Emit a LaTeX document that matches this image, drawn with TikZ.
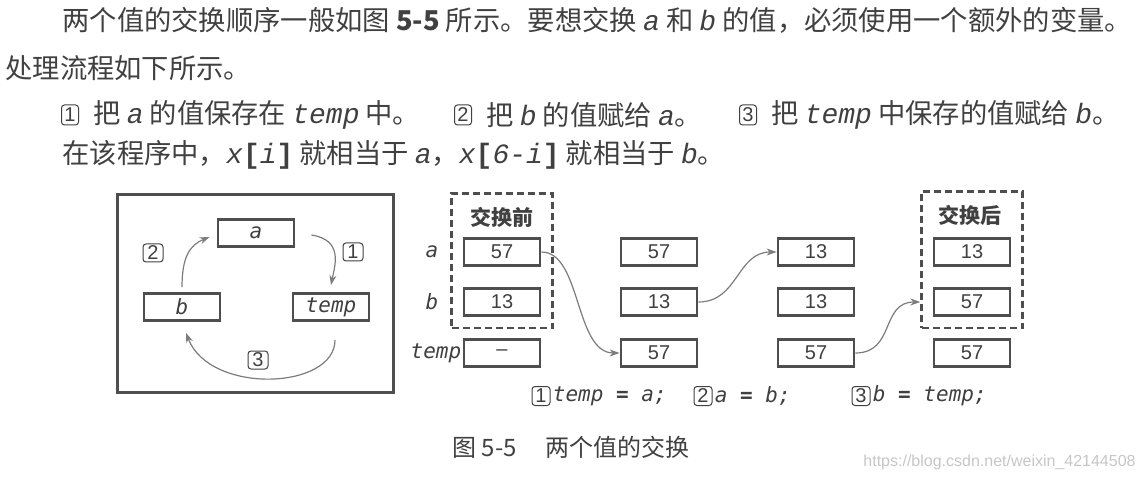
\documentclass[tikz,border=0pt]{standalone}
\usepackage{fontspec}
\setmainfont{Noto Sans CJK SC}
\setsansfont{Liberation Sans}
\setmonofont{Liberation Mono}
\newfontfamily\dvmono{DejaVu Sans Mono}
\usetikzlibrary{positioning,fit,arrows.meta}

\definecolor{ink}{HTML}{404040}
\definecolor{frame}{HTML}{4E4E4E}
\definecolor{link}{HTML}{7C7C7C}
\definecolor{mark}{HTML}{C6C6C6}

\newcommand\tv[1]{{\ttfamily\itshape\fontsize{14pt}{16pt}\selectfont #1}}
\newcommand\tb[1]{{\ttfamily\bfseries\fontsize{14pt}{16pt}\selectfont #1}}

\tikzset{
  body/.style={anchor=west,inner sep=0pt,text=ink,font=\fontsize{13.65pt}{16pt}\selectfont},
  cell/.style={draw=frame,line width=1.4pt,minimum width=38pt,minimum height=13.5pt,inner sep=0pt,text=ink,font=\sffamily\fontsize{10pt}{10pt}\selectfont},
  var/.style={inner sep=0pt,text=ink,font=\dvmono\itshape\fontsize{10.5pt}{11pt}\selectfont},
  tag/.style={draw=ink,rounded corners=1.5pt,line width=0.5pt,inner sep=0pt,minimum width=10pt,minimum height=9pt,text=ink,font=\sffamily\fontsize{10pt}{10pt}\selectfont},
  texttag/.style={tag,minimum width=8.5pt,minimum height=10pt},
  link/.style={draw=link,line width=0.6pt,-{Stealth[length=5pt,width=3.5pt]}},
  dashbox/.style={draw=frame,line width=1.3pt,dash pattern=on 3.5pt off 2pt,inner sep=5.5pt},
  title/.style={inner sep=1pt,text=ink,font=\bfseries\fontsize{10.5pt}{11pt}\selectfont}
}

\begin{document}
\begin{tikzpicture}[x=0.5pt,y=-0.5pt]
\useasboundingbox (0,0) rectangle (1144,480);

\node[body] (l1) at (62,20) {两个值的交换顺序一般如图 \textbf{5-5} 所示。要想交换 \tv{a} 和 \tv{b} 的值，必须使用一个额外的变量。};
\node[body] (l2) at (5,68) {处理流程如下所示。};
\node[texttag] (s1) at (70,115) {1};
\node[body,right=7pt of s1] (l3a) {把 \tv{a} 的值保存在 \tv{temp} 中。};
\node[texttag] (s2) at (463,115) {2};
\node[body,right=7pt of s2] (l3b) {把 \tv{b} 的值赋给 \tv{a}。};
\node[texttag] (s3) at (748,115) {3};
\node[body,right=7pt of s3] (l3c) {把 \tv{temp} 中保存的值赋给 \tv{b}。};
\node[body] (l4) at (62,155) {在该程序中，\tv{x}\tb{[}\tv{i}\tb{]} 就相当于 \tv{a}，\tv{x}\tb{[}\tv{6-i}\tb{]} 就相当于 \tv{b}。};

\draw[draw=frame,line width=1.5pt] (117,195) rectangle (393,392);
\node[cell,font=\dvmono\itshape\fontsize{10.5pt}{11pt}\selectfont] (va) at (256,233) {a};
\node[cell,font=\dvmono\itshape\fontsize{10.5pt}{11pt}\selectfont] (vb) at (182,307) {b};
\node[cell,font=\dvmono\itshape\fontsize{10.5pt}{11pt}\selectfont] (vt) at (331,307) {temp};
\node[tag] (n1) at (353,252) {1};
\node[tag] (n2) at (153,253) {2};
\node[tag] (n3) at (258,360) {3};
\draw[link] ([xshift=8pt,yshift=-1pt]va.east) .. controls +(32,5) and +(4,-20) .. ([yshift=3.5pt]vt.north);
\draw[link] ([yshift=2.5pt]vb.north) .. controls +(0,-30) and +(-20,8) .. ([xshift=-3.5pt,yshift=-2pt]va.west);
\draw[link] ([xshift=2pt,yshift=-9pt]vt.south) .. controls +(0,50) and +(24,62) .. ([xshift=2pt,yshift=-5.5pt]vb.south);

\node[title] (h1) at (502,217) {交换前};
\node[cell] (a1) at (502,252) {57};
\node[cell] (b1) at (502,302) {13};
\node[cell] (t1) at (502,353) {--};
\node[cell] (a2) at (659,252) {57};
\node[cell] (b2) at (659,302) {13};
\node[cell] (t2) at (659,353) {57};
\node[cell] (a3) at (816,252) {13};
\node[cell] (b3) at (816,302) {13};
\node[cell] (t3) at (816,353) {57};
\node[title] (h4) at (970,215) {交换后};
\node[cell] (a4) at (972,252) {13};
\node[cell] (b4) at (972,302) {57};
\node[cell] (t4) at (972,353) {57};
\node[dashbox,fit=(h1)(a1)(b1)] (before) {};
\node[dashbox,fit=(h4)(a4)(b4)] (after) {};

\node[var,left=12pt of a1] (la) {a};
\node[var,left=12pt of b1] (lb) {b};
\node[var,left=0.5pt of t1] (lt) {temp};

\draw[link] (a1.east) .. controls +(40,0) and +(-45,0) .. (t2.west);
\draw[link] (b2.east) .. controls +(40,0) and +(-40,0) .. (a3.west);
\draw[link] (t3.east) .. controls +(40,0) and +(-40,0) .. (after.west |- b4);

\node[tag,minimum width=9pt,minimum height=9.5pt] (c1) at (541,396) {1};
\node[var,right=1pt of c1] (k1) {temp \textbf{\upshape =} a;};
\node[tag,minimum width=9pt,minimum height=9.5pt] (c2) at (703,396) {2};
\node[var,right=1pt of c2] (k2) {a \textbf{\upshape =} b;};
\node[tag,minimum width=9pt,minimum height=9.5pt] (c3) at (861,396) {3};
\node[var,right=1pt of c3] (k3) {b \textbf{\upshape =} temp;};

\node[text=ink,font=\fontsize{12pt}{14pt}\selectfont] (cap) at (571,447) {图 5-5\hspace{1.2em}两个值的交换};
\node[anchor=east,inner sep=0pt,text=mark,font=\sffamily\fontsize{8pt}{8pt}\selectfont] (wm) at (1136,462) {https://blog.csdn.net/weixin\_42144508};
\end{tikzpicture}
\end{document}
